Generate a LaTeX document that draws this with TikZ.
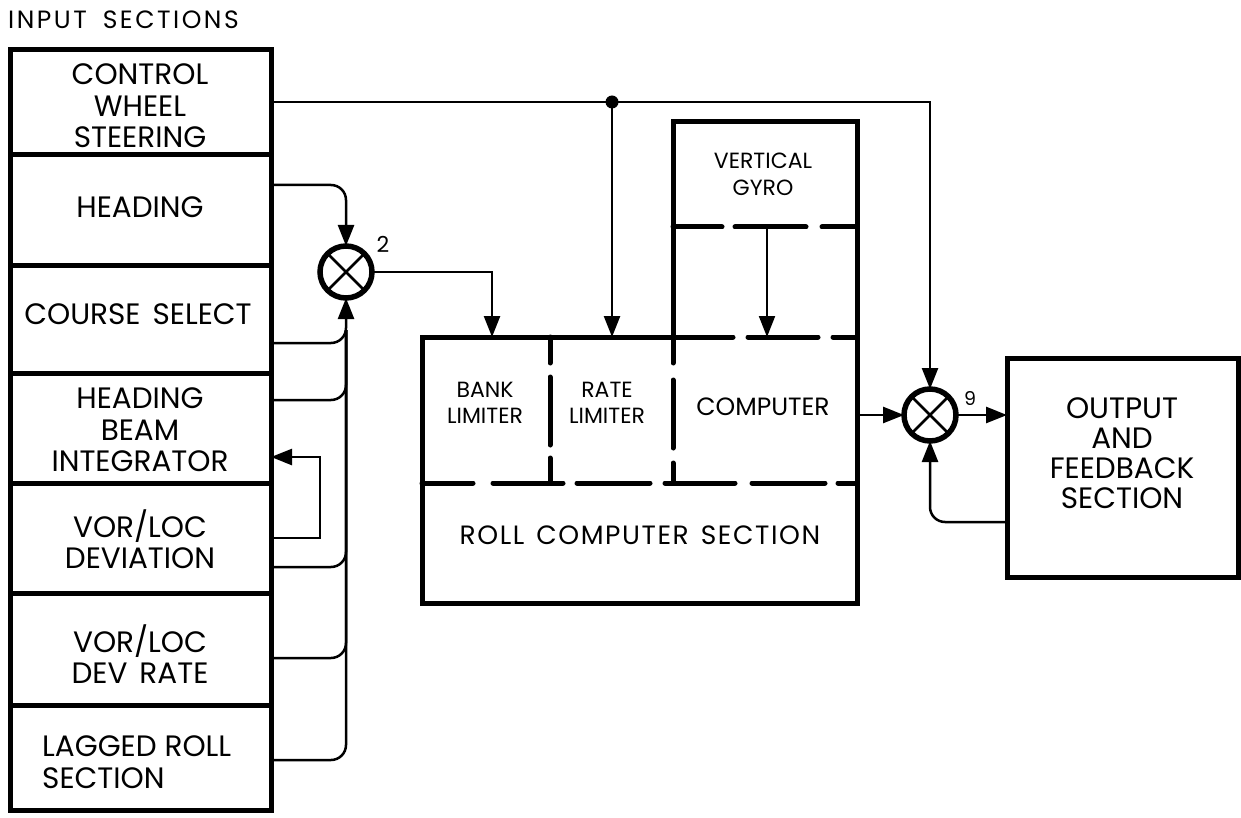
\documentclass[tikz,border=0pt]{standalone}
\usepackage{fontspec}
\setmainfont{Poppins}
\newfontfamily\spaced[LetterSpace=10]{Poppins}
\newfontfamily\spacedr[LetterSpace=6]{Poppins}
\usetikzlibrary{arrows.meta}
\begin{document}
\begin{tikzpicture}[x=1pt,y=-1pt,
  inbox/.style={draw, line width=5pt, minimum width=261pt, inner sep=0pt, outer sep=0pt},
  conn/.style={line width=2.5pt},
  arr/.style={-{Triangle[length=21pt,width=16pt]}},
  sumj/.style={circle, draw, fill=white, line width=5.5pt, minimum size=52pt, inner sep=0pt, outer sep=0pt,
    path picture={\draw[line width=2.5pt] (path picture bounding box.north west)--(path picture bounding box.south east)
      (path picture bounding box.north east)--(path picture bounding box.south west);}},
  big/.style={font=\fontsize{29.5}{31.5}\selectfont, align=center, inner sep=0pt},
  mid/.style={font=\fontsize{25}{28}\selectfont, align=center, inner sep=0pt},
  small/.style={font=\fontsize{22}{26}\selectfont, align=center, inner sep=0pt},
  thickbox/.style={line width=5pt},
  dsh/.style={line width=5pt, line cap=round},
]
\useasboundingbox (0,0) rectangle (1241,818);

% title
\node[font=\fontsize{25}{28}\selectfont\spaced, inner sep=0pt, anchor=west] (title) at (8,20) {INPUT\hspace{16pt}SECTIONS};

% input column boxes
\node[inbox, minimum height=105pt] (cws) at (140.5,102.5) {};
\node[inbox, minimum height=110pt] (hdg) at (140.5,210) {};
\node[inbox, minimum height=108pt] (crs) at (140.5,319) {};
\node[inbox, minimum height=110pt] (hbi) at (140.5,428) {};
\node[inbox, minimum height=110pt] (vor) at (140.5,538) {};
\node[inbox, minimum height=112pt] (vrate) at (140.5,649) {};
\node[inbox, minimum height=105pt] (lag) at (140.5,757.5) {};

\node[big] (cwst) at (140,106) {CONTROL\\WHEEL\\STEERING};
\node[big] (hdgt) at (140,207) {HEADING};
\node[big] (crst) at (138,314) {COURSE\hspace{12pt}SELECT};
\node[big] (hbit) at (140,430) {HEADING\\BEAM\\INTEGRATOR};
\node[big] (vort) at (140,539) {VOR/LOC\\DEVIATION};
\node[big] (vratet) at (140,654) {VOR/LOC\\DEV\hspace{12pt}RATE};
\node[big, align=left, anchor=west] (lagt) at (42,762) {LAGGED ROLL\\SECTION};

% summing junction 2
\node[sumj] (s2) at (346,272) {};
\node[small] (n2) at (383,244) {2};

% heading into summer
\draw[conn, arr, rounded corners=15pt] (hdg.east |- 0,185) -- (346,185) -- (s2.north);
% bus from lower inputs
\draw[conn, rounded corners=15pt] (lag.east |- 0,760) -- (346,760) -- (346,330);
\draw[conn, rounded corners=15pt] (vrate.east |- 0,658) -- (346,658) -- (346,330);
\draw[conn, rounded corners=15pt] (vor.east |- 0,567) -- (346,567) -- (346,330);
\draw[conn, rounded corners=15pt] (hbi.east |- 0,400) -- (346,400) -- (346,330);
\draw[conn, arr, rounded corners=15pt] (crs.east |- 0,343) -- (346,343) -- (s2.south);
% feedback loop VOR/LOC deviation -> heading beam integrator
\draw[conn, arr] (vor.east |- 0,538) -- (320,538) -- (320,457) -- (hbi.east |- 0,457);

% roll computer section
\draw[thickbox] (673,337) -- (673,122) -- (857,122) -- (857,603) -- (422,603) -- (422,337) -- cycle;
% dashed gyro divider
\draw[dsh] (673,227) -- (722,227) (735,227) -- (806,227) (822,227) -- (857,227);
% dashed top of computer
\draw[dsh] (673,337) -- (733,337) (748,337) -- (818,337) (833,337) -- (857,337);
% dashed bottom divider
\draw[dsh] (422,483) -- (473,483) (493,483) -- (563,483) (577,483) -- (650,483)
  (665,483) -- (735,483) (752,483) -- (825,483) (838,483) -- (857,483);
% dashed verticals
\draw[dsh] (550,337) -- (550,363) (550,377) -- (550,445) (550,458) -- (550,483);
\draw[dsh] (673,337) -- (673,363) (673,380) -- (673,448) (673,463) -- (673,483);

\node[small, font=\fontsize{22}{27}\selectfont] (gyro) at (763,174) {VERTICAL\\GYRO};
\node[small] (bank) at (485,403) {BANK\\LIMITER};
\node[small] (rate) at (607,403) {RATE\\LIMITER};
\node[mid] (comp) at (763,407) {COMPUTER};
\node[font=\fontsize{26.5}{30}\selectfont\spacedr, inner sep=0pt] (rollsec) at (640,535) {ROLL\hspace{12pt}COMPUTER\hspace{12pt}SECTION};

\coordinate (banktop) at (492,337);
\coordinate (ratetop) at (612,337);
\coordinate (comptop) at (767,337);
\coordinate (gyrobot) at (767,227);
\coordinate (compout) at (857,415);

% summer 2 output to bank limiter
\draw[conn, arr] (s2.east) -- (492,272) -- (banktop);
% gyro to computer
\draw[line width=2pt, arr] (gyrobot) -- (comptop);

% summing junction 9
\node[sumj] (s9) at (930,415) {};
\node[font=\fontsize{19}{22}\selectfont, inner sep=0pt] (n9) at (970,399) {9};

% output box
\node[inbox, minimum width=231pt, minimum height=219pt] (out) at (1122.5,467.5) {};
\node[big, font=\fontsize{29.5}{30}\selectfont] (outt) at (1122,453) {OUTPUT\\AND\\FEEDBACK\\SECTION};

% control wheel steering line
\draw[conn, arr] (cws.east |- 0,102) -- (930,102) -- (s9.north);
\coordinate (dot) at (612,102);
\fill (dot) circle (6.5pt);
\draw[conn, arr] (dot) -- (ratetop);

% computer to summer 9, summer 9 to output, feedback
\draw[conn, arr] (compout) -- (s9.west);
\draw[conn, arr] (s9.east) -- (out.west |- s9.east);
\draw[conn, arr, rounded corners=15pt] (out.west |- 0,522) -- (930,522) -- (s9.south);
\end{tikzpicture}
\end{document}
